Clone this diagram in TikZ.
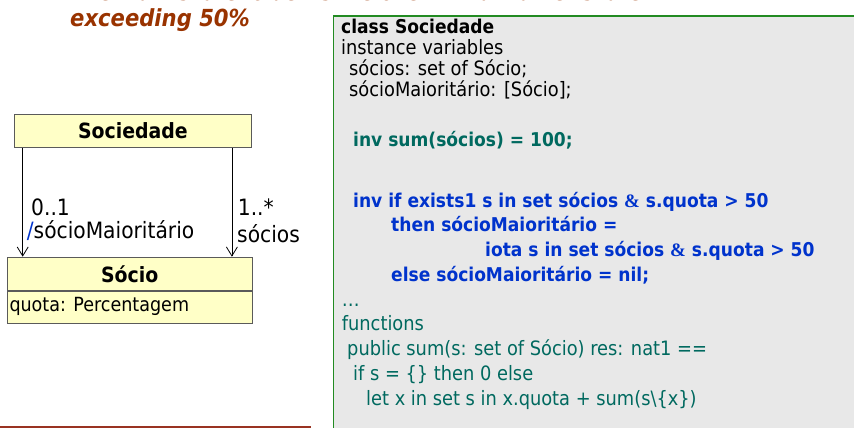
\documentclass[tikz,border=0pt]{standalone}
\usepackage{fontspec}
\setmainfont{DejaVu Sans Condensed}
\newfontfamily\ampfont{Liberation Serif}
\usetikzlibrary{arrows.meta}
\definecolor{titlebrown}{RGB}{153,51,0}
\definecolor{framegreen}{RGB}{34,139,34}
\definecolor{codefill}{RGB}{232,232,232}
\definecolor{vdmteal}{RGB}{0,105,95}
\definecolor{vdmblue}{RGB}{0,51,204}
\definecolor{umlfill}{RGB}{255,255,199}
\definecolor{umldraw}{RGB}{90,90,90}
\definecolor{barred}{RGB}{153,51,34}
\newcommand{\amp}{{\ampfont\bfseries\&}}
\tikzset{
  titletext/.style={anchor=base west, inner sep=0pt, text=titlebrown, font=\fontsize{23.5}{27}\selectfont\bfseries\itshape},
  codeline/.style={anchor=base west, inner sep=0pt, font=\fontsize{19.8}{23}\selectfont},
  codebold/.style={anchor=base west, inner sep=0pt, font=\fontsize{19}{23}\selectfont\bfseries},
  umlbox/.style={draw=umldraw, fill=umlfill, line width=0.9pt, inner sep=0pt},
  umlname/.style={font=\fontsize{21}{25}\selectfont\bfseries},
  umltext/.style={anchor=base west, inner sep=0pt, font=\fontsize{19.5}{23}\selectfont},
  roletext/.style={anchor=base west, inner sep=0pt, font=\fontsize{22.5}{26}\selectfont},
  assoc/.style={draw=black, line width=0.8pt, -{Straight Barb[length=9pt,width=11pt]}},
}
\begin{document}
\begin{tikzpicture}[x=1pt,y=-1pt]
\useasboundingbox (0,0) rectangle (854,428);
\clip (0,0) rectangle (854,428);
% title
\node[titletext] (t1) at (73,1) {\scalebox{0.9}[1]{The main shareholder is the one with a market share}};
\node[titletext] (t2) at (70,26.5) {exceeding 50\%};
% code box
\node[draw=framegreen, fill=codefill, line width=1.3pt, anchor=north west, minimum width=600pt, minimum height=500pt] (code) at (333,15.5) {};
\node[codebold] (l1) at (341,34) {class Sociedade};
\node[codeline] (l2) at (341,54.5) {instance variables};
\node[codeline] (l3) at (349,75) {sócios: set of Sócio;};
\node[codeline] (l4) at (349,96.5) {sócioMaioritário: [Sócio];};
\node[codebold, text=vdmteal] (l5) at (353,146.5) {inv sum(sócios) = 100;};
\node[codebold, text=vdmblue] (l6) at (353,207.7) {inv if exists1 s in set sócios \amp{} s.quota > 50};
\node[codebold, text=vdmblue] (l7) at (391,231.7) {then sócioMaioritário =};
\node[codebold, text=vdmblue] (l8) at (485,256.7) {iota s in set sócios \amp{} s.quota > 50};
\node[codebold, text=vdmblue] (l9) at (391,281.7) {else sócioMaioritário = nil;};
\node[codeline, text=vdmteal] (l10) at (341.7,306.7) {…};
\node[codeline, text=vdmteal] (l11) at (341.7,330) {functions};
\node[codeline, text=vdmteal] (l12) at (347,355) {public sum(s: set of Sócio) res: nat1 ==};
\node[codeline, text=vdmteal] (l13) at (353,380) {if s = \{\} then 0 else};
\node[codeline, text=vdmteal] (l14) at (366,405) {let x in set s in x.quota + sum(s\textbackslash\{x\})};
\node[codeline, text=vdmteal] (l15) at (341.7,431) {…};
% UML
\node[umlbox, umlname, anchor=north west, minimum width=237pt, minimum height=33pt] (soc) at (14,114) {Sociedade};
\node[umlbox, umlname, anchor=north west, minimum width=245pt, minimum height=33.3pt] (socio) at (6.7,256.7) {Sócio};
\node[umlbox, anchor=north west, minimum width=245pt, minimum height=32pt] (attr) at (socio.south west) {};
\node[umltext] (quota) at (9.3,311.7) {quota: Percentagem};
\draw[assoc] ([xshift=8.7pt]soc.south west) -- ([xshift=8.7pt]soc.south west |- socio.north);
\draw[assoc] ([xshift=-20pt]soc.south east) -- ([xshift=-20pt]soc.south east |- socio.north);
\node[roletext] (m1) at (31,215) {0..1};
\node[roletext] (r1) at (26.7,238) {\textcolor{vdmblue}{/}sócioMaioritário};
\node[roletext] (m2) at (237.7,215) {1..*};
\node[roletext] (r2) at (237,242.5) {sócios};
% bottom bar
\fill[barred] (0,426) rectangle (311,432);
\end{tikzpicture}
\end{document}
